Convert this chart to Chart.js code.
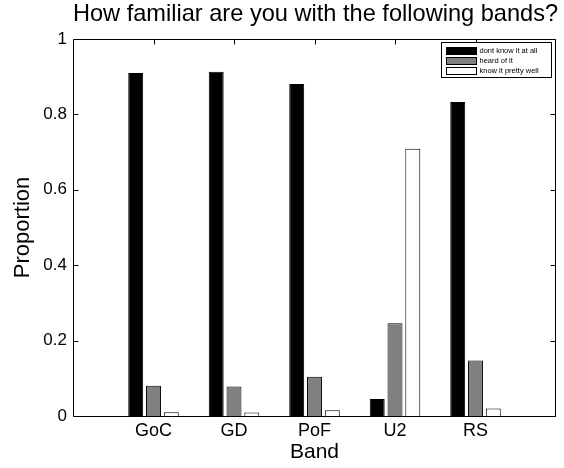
<!DOCTYPE html>
<html><head><meta charset="utf-8">
<script src="https://cdn.jsdelivr.net/npm/chart.js@4.4.0/dist/chart.umd.min.js"></script>
<style>html,body{margin:0;padding:0;background:#fff}</style>
</head><body>
<canvas id="c" width="564" height="468"></canvas>
<script>
const categories = ['GoC', 'GD', 'PoF', 'U2', 'RS'];
const seriesNames = ['dont know it at all', 'heard of it', 'know it pretty well'];
const dontKnow = [0.910, 0.913, 0.881, 0.045, 0.833];
const heardOf  = [0.080, 0.078, 0.104, 0.246, 0.147];
const knowWell = [0.010, 0.009, 0.015, 0.709, 0.020];
const yTicks = [0, 0.2, 0.4, 0.6, 0.8, 1];
const titleText = 'How familiar are you with the following bands?';
const xLabel = 'Band';
const yLabel = 'Proportion';

const FONT = "'Liberation Sans', Arial, Helvetica, sans-serif";
Chart.defaults.color = '#000';
Chart.defaults.font.family = FONT;

const seriesValues = [dontKnow, heardOf, knowWell];
const seriesFill = ['#000000', '#808080', '#ffffff'];

const frame = {
  id: 'frame',
  afterLayout(chart) {
    const t = chart.titleBlock, a = chart.chartArea;
    if (t && a) {
      const c = (a.left + a.right) / 2 + 1, half = 270;
      t.left = c - half; t.right = c + half; t.width = 2 * half;
    }
  },
  beforeDatasetsDraw(chart) {
    const {ctx, chartArea: a, scales: {x, y}} = chart;
    const L = Math.round(a.left) + 0.5, R = Math.round(a.right) - 0.5;
    const T = Math.round(a.top) + 0.5, B = Math.round(a.bottom) + 0.5;
    const tl = 5;
    ctx.save();
    ctx.strokeStyle = '#000';
    ctx.lineWidth = 1;
    ctx.beginPath();
    ctx.rect(L, T, R - L, B - T);
    categories.forEach((c, i) => {
      const px = Math.round(x.getPixelForValue(i + 1)) + 0.5;
      ctx.moveTo(px, T); ctx.lineTo(px, T + tl);
      ctx.moveTo(px, B); ctx.lineTo(px, B - tl);
    });
    yTicks.forEach(v => {
      const py = Math.round(y.getPixelForValue(v)) + 0.5;
      ctx.moveTo(L, py); ctx.lineTo(L + tl, py);
      ctx.moveTo(R, py); ctx.lineTo(R - tl, py);
    });
    ctx.stroke();
    ctx.restore();
  },
  afterDatasetsDraw(chart) {
    const {ctx, chartArea: a} = chart;
    const L = Math.round(a.left) + 0.5, R = Math.round(a.right) - 0.5;
    const B = Math.round(a.bottom) + 0.5;
    ctx.save();
    ctx.strokeStyle = '#000';
    ctx.lineWidth = 1;
    ctx.beginPath();
    ctx.moveTo(L, B); ctx.lineTo(R, B);
    ctx.stroke();
    // legend box
    const bx = 441.5, by = 42.5, bw = 110, bh = 35;
    ctx.fillStyle = '#fff';
    ctx.fillRect(bx, by, bw, bh);
    ctx.strokeRect(bx, by, bw, bh);
    const rows = [50.7, 60.5, 70.5];
    ctx.font = '7.5px ' + FONT;
    ctx.textBaseline = 'middle';
    ctx.textAlign = 'left';
    chart.data.datasets.forEach((ds, i) => {
      const cy = rows[i];
      ctx.fillStyle = ds.backgroundColor;
      ctx.fillRect(446.5, Math.round(cy - 3.5) + 0.5, 30, 7);
      ctx.strokeStyle = '#000';
      ctx.strokeRect(446.5, Math.round(cy - 3.5) + 0.5, 30, 7);
      ctx.fillStyle = '#000';
      ctx.fillText(ds.label, 479.5, cy + 0.5);
    });
    ctx.restore();
  }
};

new Chart(document.getElementById('c'), {
  type: 'bar',
  data: {
    datasets: seriesNames.map((name, k) => ({
      label: name,
      data: seriesValues[k].map((v, i) => ({x: i + 1, y: v})),
      backgroundColor: seriesFill[k],
      borderColor: '#000',
      borderWidth: 1,
      categoryPercentage: 0.663,
      barPercentage: 0.84
    }))
  },
  options: {
    responsive: false,
    animation: false,
    events: [],
    layout: {padding: {left: 0, right: 8, top: 0, bottom: 0}},
    plugins: {
      legend: {display: false},
      tooltip: {enabled: false},
      title: {
        display: true,
        text: titleText,
        color: '#000',
        font: {family: FONT, size: 23.6, weight: 'normal', lineHeight: 1.2},
        padding: {top: 0, bottom: 10.7}
      }
    },
    scales: {
      x: {
        type: 'linear',
        min: 0, max: 6,
        offset: false,
        grid: {display: false, drawTicks: false},
        border: {display: false},
        afterBuildTicks(s) { s.ticks = categories.map((c, i) => ({value: i + 1})); },
        afterFit(s) { s.height = 52; },
        ticks: {
          autoSkip: false,
          maxRotation: 0,
          padding: 4.5,
          font: {family: FONT, size: 18},
          callback: (v) => categories[v - 1] ?? ''
        },
        title: {
          display: true, text: xLabel,
          font: {family: FONT, size: 21, lineHeight: 1.2},
          padding: {top: 0, bottom: 3}
        }
      },
      y: {
        min: 0, max: 1,
        grid: {display: false, drawTicks: false},
        border: {display: false},
        afterBuildTicks(s) { s.ticks = yTicks.map(v => ({value: v})); },
        afterFit(s) { s.width = 73; },
        ticks: {
          padding: 6,
          font: {family: FONT, size: 17},
          callback: (v) => String(+(+v).toFixed(1))
        },
        title: {
          display: true, text: yLabel,
          font: {family: FONT, size: 22, lineHeight: 1.2},
          padding: {top: 9.3, bottom: 0}
        }
      }
    }
  },
  plugins: [frame]
});
</script>
</body></html>
